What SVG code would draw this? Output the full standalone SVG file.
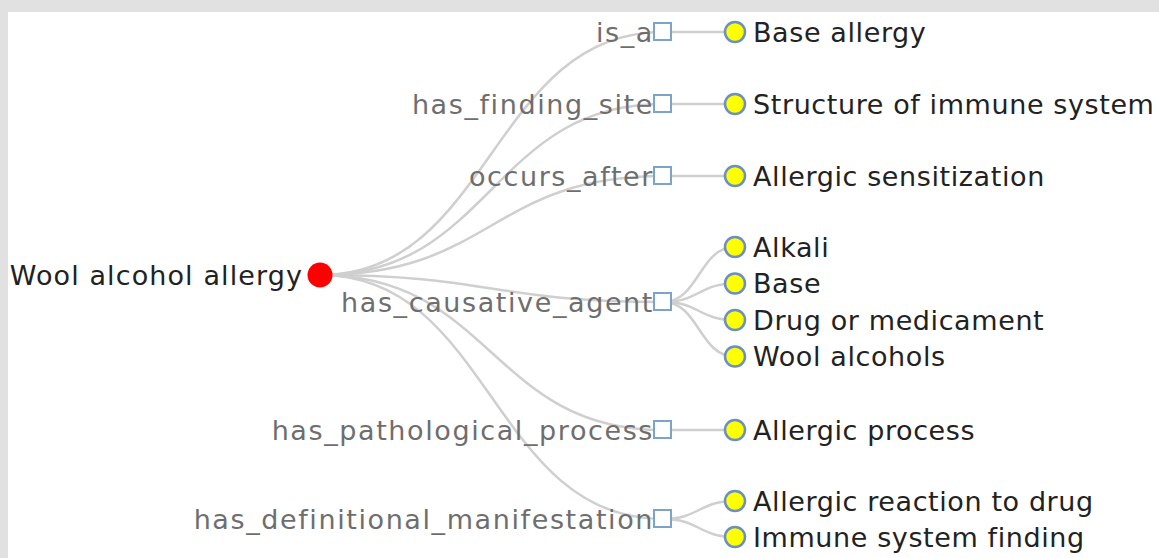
<svg xmlns="http://www.w3.org/2000/svg" width="1159" height="558" viewBox="0 0 1159 558">
<style>
.link{fill:none;stroke:#cfcfcf;stroke-width:2.5}
.rel rect{fill:#ffffff;stroke:#7ea3c8;stroke-width:2}
.leaf circle{fill:#ffff00;stroke:#6b8fc4;stroke-width:2.5}
text{font-family:"DejaVu Sans",Verdana,sans-serif;font-size:27px;letter-spacing:1px}
.rel text{fill:#6e6e6e;text-anchor:end;letter-spacing:1.6px}
.leaf text{fill:#222222;letter-spacing:0.6px}
</style>
<rect x="0" y="0" width="1159" height="558" fill="#e1e1e1"/>
<rect x="8" y="12" width="1151" height="546" fill="#ffffff"/>
<g id="connectors">
<path class="link" d="M320,275C491.5,275 491.5,32 663,32"/>
<path class="link" d="M320,275C491.5,275 491.5,104 663,104"/>
<path class="link" d="M320,275C491.5,275 491.5,176 663,176"/>
<path class="link" d="M320,275C491.5,275 491.5,302 663,302"/>
<path class="link" d="M320,275C491.5,275 491.5,430 663,430"/>
<path class="link" d="M320,275C491.5,275 491.5,519 663,519"/>
<path class="link" d="M663,32L735,32"/>
<path class="link" d="M663,104L735,104"/>
<path class="link" d="M663,176L735,176"/>
<path class="link" d="M663,302C699,302 699,247 735,247"/>
<path class="link" d="M663,302C699,302 699,283.5 735,283.5"/>
<path class="link" d="M663,302C699,302 699,320 735,320"/>
<path class="link" d="M663,302C699,302 699,356.5 735,356.5"/>
<path class="link" d="M663,430L735,430"/>
<path class="link" d="M663,519C699,519 699,501 735,501"/>
<path class="link" d="M663,519C699,519 699,537 735,537"/>
</g>
<g id="root">
<circle cx="320" cy="275" r="12.5" fill="#ff0000"/>
<text x="303" y="275" dy="0.36em" text-anchor="end" fill="#222222" style="letter-spacing:1.1px">Wool alcohol allergy</text>
</g>
<g id="rel-is_a" class="rel"><rect x="654" y="23" width="17" height="17"/><text x="654" y="32" dy="0.36em">is_a</text></g>
<g id="rel-has_finding_site" class="rel"><rect x="654" y="95" width="17" height="17"/><text x="654" y="104" dy="0.36em">has_finding_site</text></g>
<g id="rel-occurs_after" class="rel"><rect x="654" y="167" width="17" height="17"/><text x="654" y="176" dy="0.36em">occurs_after</text></g>
<g id="rel-has_causative_agent" class="rel"><rect x="654" y="293" width="17" height="17"/><text x="654" y="302" dy="0.36em">has_causative_agent</text></g>
<g id="rel-has_pathological_process" class="rel"><rect x="654" y="421" width="17" height="17"/><text x="654" y="430" dy="0.36em">has_pathological_process</text></g>
<g id="rel-has_definitional_manifestation" class="rel"><rect x="654" y="510" width="17" height="17"/><text x="654" y="519" dy="0.36em">has_definitional_manifestation</text></g>
<g id="leaf-base-allergy" class="leaf"><circle cx="735" cy="32" r="10"/><text x="753" y="32" dy="0.36em">Base allergy</text></g>
<g id="leaf-structure" class="leaf"><circle cx="735" cy="104" r="10"/><text x="753" y="104" dy="0.36em">Structure of immune system</text></g>
<g id="leaf-sensitization" class="leaf"><circle cx="735" cy="176" r="10"/><text x="753" y="176" dy="0.36em">Allergic sensitization</text></g>
<g id="leaf-alkali" class="leaf"><circle cx="735" cy="247" r="10"/><text x="753" y="247" dy="0.36em">Alkali</text></g>
<g id="leaf-base" class="leaf"><circle cx="735" cy="283.5" r="10"/><text x="753" y="283.5" dy="0.36em">Base</text></g>
<g id="leaf-drug" class="leaf"><circle cx="735" cy="320" r="10"/><text x="753" y="320" dy="0.36em">Drug or medicament</text></g>
<g id="leaf-wool-alcohols" class="leaf"><circle cx="735" cy="356.5" r="10"/><text x="753" y="356.5" dy="0.36em">Wool alcohols</text></g>
<g id="leaf-allergic-process" class="leaf"><circle cx="735" cy="430" r="10"/><text x="753" y="430" dy="0.36em">Allergic process</text></g>
<g id="leaf-reaction-drug" class="leaf"><circle cx="735" cy="501" r="10"/><text x="753" y="501" dy="0.36em">Allergic reaction to drug</text></g>
<g id="leaf-immune-finding" class="leaf"><circle cx="735" cy="537" r="10"/><text x="753" y="537" dy="0.36em">Immune system finding</text></g>
</svg>
